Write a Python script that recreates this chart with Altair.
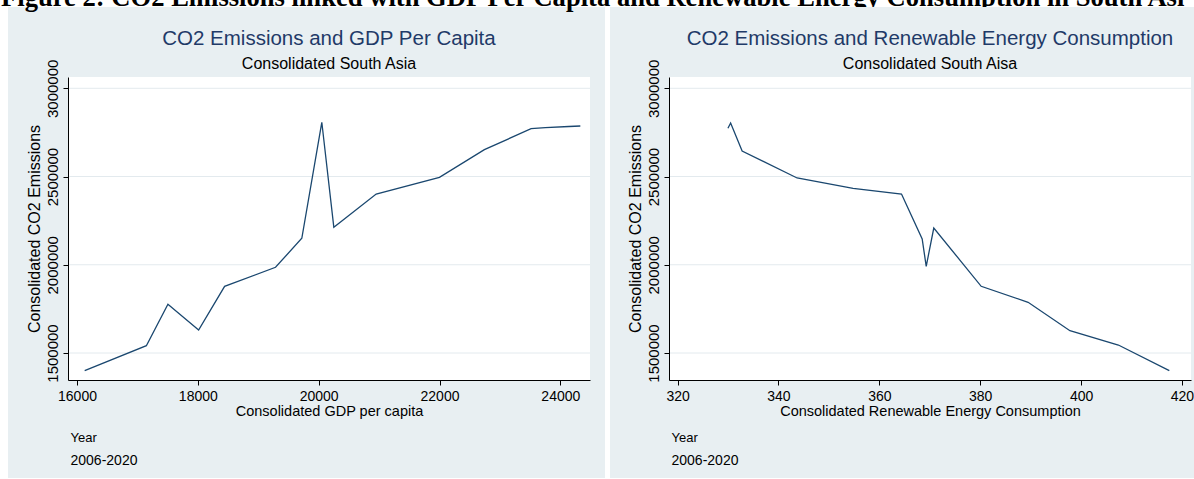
import altair as alt
import pandas as pd

# ---------------- data ----------------
caption = "Figure 2: CO2 Emissions linked with GDP Per Capita and Renewable Energy Consumption in South Asia"

gdp_per_capita = [16127, 17148, 17505, 18013, 18443, 19286, 19721, 20052, 20251,
                  20952, 21999, 22743, 23516, 23752, 24141, 24331]
co2_vs_gdp = [1399700, 1541400, 1776000, 1630300, 1878000, 1985700, 2150000, 2807400,
              2212300, 2401000, 2495700, 2652100, 2771100, 2776800, 2783600, 2786400]

renewable_energy = [329.99, 330.52, 332.8, 343.7, 354.8, 364.4, 368.5, 369.3, 370.8,
                    380.2, 389.5, 397.8, 407.4, 417.5]
co2_vs_renewable = [2773400, 2803400, 2644700, 2491700, 2433400, 2401000, 2146000, 1991300,
                    2208300, 1878000, 1787300, 1626400, 1545300, 1399700]

y_ticks = [1500000, 2000000, 2500000, 3000000]
gdp_ticks = [16000, 18000, 20000, 22000, 24000]
re_ticks = [320, 340, 360, 380, 400, 420]

y_domain = [1347000, 3064000]
gdp_domain = [15851, 24491]
re_domain = [318.3, 421.8]

# ---------------- styling ----------------
GREY = "#E8EFF2"
GRID = "#E3EAEE"
NAVY = "#1A476F"
TITLE_COLOR = "#1F3A68"
FONT = "Liberation Sans"
W, H = 522, 303

one = pd.DataFrame({"k": [0]})


def panel(xvals, yvals, xdomain, xticks, xtitle, title, subtitle, grey_left, grey_right, first):
    yscale = alt.Scale(domain=y_domain, nice=False, zero=False)
    xscale = alt.Scale(domain=xdomain, nice=False, zero=False)
    yaxis = alt.Axis(values=y_ticks, format="d", title="Consolidated CO2 Emissions", grid=False,
                     labelAngle=270, labelAlign="center", labelBaseline="bottom",
                     tickSize=5, labelPadding=3, labelFontSize=15, titleFontSize=16,
                     titlePadding=3, zindex=1, labelOverlap=False)
    xaxis = alt.Axis(values=xticks, format="d", title=xtitle, grid=False, tickSize=5,
                     labelPadding=4, labelFontSize=14, titleFontSize=14.5, titlePadding=1,
                     labelFlush=False, zindex=1, labelOverlap=False)
    Y = alt.Y("y:Q", scale=yscale, axis=yaxis)

    layers = []
    if first:
        # white margin at the far left of the figure
        layers.append(alt.Chart(one).mark_rect(fill="white").encode(
            x=alt.value(-68), x2=alt.value(grey_left), y=alt.value(-70), y2=alt.value(401)))
    layers.append(alt.Chart(one).mark_rect(fill=GREY).encode(
        x=alt.value(grey_left), x2=alt.value(grey_right), y=alt.value(-70), y2=alt.value(401)))
    layers.append(alt.Chart(one).mark_rect(fill="white").encode(
        x=alt.value(0), x2=alt.value(W), y=alt.value(0), y2=alt.value(H)))
    layers.append(alt.Chart(pd.DataFrame({"y": y_ticks})).mark_rule(color=GRID, strokeWidth=1).encode(
        y=Y, x=alt.value(0), x2=alt.value(W)))
    df = pd.DataFrame({"x": xvals, "y": yvals})
    layers.append(alt.Chart(df).mark_line(color=NAVY, strokeWidth=1.3).encode(
        x=alt.X("x:Q", scale=xscale, axis=xaxis), y=Y))
    layers.append(alt.Chart(one).mark_text(text=title, font=FONT, fontSize=20.5, color=TITLE_COLOR,
                                           align="center", baseline="alphabetic").encode(
        x=alt.value(W / 2), y=alt.value(-32)))
    layers.append(alt.Chart(one).mark_text(text=subtitle, font=FONT, fontSize=16, color="black",
                                           align="center", baseline="alphabetic").encode(
        x=alt.value(W / 2), y=alt.value(-8)))
    layers.append(alt.Chart(one).mark_text(text="Year", font=FONT, fontSize=13, color="black",
                                           align="left", baseline="alphabetic").encode(
        x=alt.value(2.5), y=alt.value(364.5)))
    layers.append(alt.Chart(one).mark_text(text="2006-2020", font=FONT, fontSize=14, color="black",
                                           align="left", baseline="alphabetic").encode(
        x=alt.value(2.5), y=alt.value(387.5)))
    if first:
        # document caption, cut by the top edge of the picture
        layers.append(alt.Chart(pd.DataFrame({"t": [caption]})).mark_text(
            align="left", baseline="alphabetic", font="Liberation Serif", fontWeight="bold",
            fontSize=26.6, color="black", limit=1193, ellipsis="\u200b").encode(
            x=alt.value(-67), y=alt.value(-71), text="t:N"))
    return alt.layer(*layers).properties(width=W, height=H)


left = panel(gdp_per_capita, co2_vs_gdp, gdp_domain, gdp_ticks, "Consolidated GDP per capita",
             "CO2 Emissions and GDP Per Capita", "Consolidated South Asia", -60, 537, True)
right = panel(renewable_energy, co2_vs_renewable, re_domain, re_ticks,
              "Consolidated Renewable Energy Consumption",
              "CO2 Emissions and Renewable Energy Consumption", "Consolidated South Aisa", -59, 525, False)

chart = alt.hconcat(left, right, spacing=79, bounds="flush",
                    padding={"top": -15, "left": 0, "right": 0, "bottom": 0},
                    background="white").configure_view(stroke=None).configure_axis(
    labelFont=FONT, titleFont=FONT, labelColor="black", titleColor="black",
    titleFontWeight="normal", domainColor="black", tickColor="black", domainWidth=1, tickWidth=1)

chart.save("out.html", embed_options={"renderer": "svg", "actions": False})
